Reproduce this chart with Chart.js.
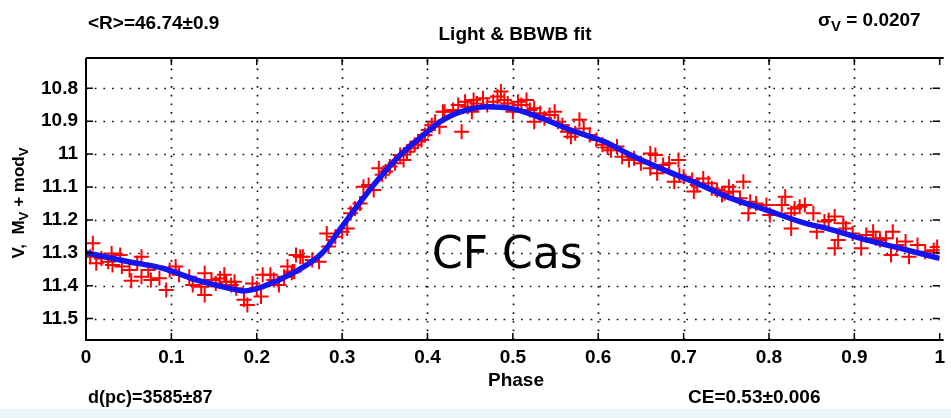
<!DOCTYPE html>
<html>
<head>
<meta charset="UTF-8">
<title>CF Cas - Light & BBWB fit</title>
<script src="https://cdn.jsdelivr.net/npm/chart.js"></script>
<style>
    html, body { margin: 0; padding: 0; background: #fff; }
    #wrap { width: 951px; height: 418px; }
</style>
</head>
<body>
<div id="wrap"><canvas id="lc" width="951" height="418"></canvas></div>
<script>
const phaseObs = [
    0.008, 0.005, 0.012, 0.018, 0.026, 0.031, 0.040, 0.042, 0.051, 0.053,
    0.065, 0.065, 0.073, 0.076, 0.086, 0.094, 0.098, 0.105, 0.109, 0.121,
    0.125, 0.135, 0.139, 0.139, 0.152, 0.162, 0.164, 0.174, 0.176, 0.185,
    0.189, 0.195, 0.205, 0.207, 0.216, 0.226, 0.232, 0.236, 0.242, 0.246,
    0.241, 0.251, 0.265, 0.244, 0.254, 0.273, 0.284, 0.282, 0.292, 0.306,
    0.310, 0.321, 0.325, 0.337, 0.343, 0.351, 0.362, 0.372, 0.376, 0.385,
    0.393, 0.401, 0.409, 0.414, 0.418, 0.420, 0.430, 0.440, 0.444, 0.452,
    0.454, 0.465, 0.477, 0.486, 0.490, 0.500, 0.506, 0.516, 0.525, 0.525,
    0.537, 0.549, 0.553, 0.564, 0.568, 0.578, 0.583, 0.605, 0.615, 0.611,
    0.622, 0.628, 0.636, 0.650, 0.661, 0.667, 0.661, 0.669, 0.683, 0.694,
    0.689, 0.695, 0.712, 0.710, 0.723, 0.729, 0.739, 0.745, 0.753, 0.758,
    0.770, 0.766, 0.778, 0.776, 0.797, 0.801, 0.815, 0.819, 0.826, 0.826,
    0.836, 0.842, 0.852, 0.856, 0.865, 0.877, 0.881, 0.877, 0.887, 0.890,
    0.908, 0.914, 0.922, 0.925, 0.937, 0.943, 0.945, 0.960, 0.964, 0.974,
    0.993, 0.997,
    0.436, 0.447, 0.458, 0.470, 0.482, 0.494, 0.510, 0.520, 0.532, 0.543,
    0.558, 0.573, 0.590, 0.598, 0.300, 0.315, 0.331, 0.347, 0.356, 0.368,
    0.380, 0.389, 0.397, 0.405, 0.642, 0.676, 0.700, 0.716, 0.733, 0.748,
    0.785, 0.147, 0.157, 0.170, 0.200, 0.220, 0.030, 0.060, 0.830, 0.870,
    0.898, 0.930, 0.950, 0.983
];
const magObs = [
    11.271, 11.312, 11.332, 11.317, 11.327, 11.337, 11.307, 11.342, 11.352, 11.385,
    11.312, 11.373, 11.352, 11.383, 11.377, 11.413, 11.352, 11.342, 11.367, 11.373,
    11.398, 11.403, 11.362, 11.428, 11.393, 11.367, 11.388, 11.388, 11.408, 11.443,
    11.459, 11.393, 11.433, 11.367, 11.367, 11.398, 11.373, 11.342, 11.357, 11.307,
    11.361, 11.312, 11.322, 11.357, 11.312, 11.327, 11.281, 11.241, 11.251, 11.226,
    11.180, 11.150, 11.099, 11.109, 11.043, 11.053, 11.028, 11.018, 10.993, 10.972,
    10.957, 10.927, 10.902, 10.917, 10.871, 10.871, 10.866, 10.932, 10.841, 10.871,
    10.836, 10.830, 10.841, 10.810, 10.836, 10.871, 10.841, 10.836, 10.861, 10.902,
    10.891, 10.871, 10.902, 10.932, 10.947, 10.896, 10.922, 10.972, 10.988, 10.980,
    10.977, 11.008, 11.018, 11.028, 10.998, 11.003, 11.043, 11.058, 11.028, 11.018,
    11.084, 11.064, 11.114, 11.079, 11.074, 11.089, 11.109, 11.124, 11.099, 11.114,
    11.084, 11.134, 11.145, 11.180, 11.155, 11.185, 11.155, 11.130, 11.226, 11.180,
    11.160, 11.155, 11.180, 11.236, 11.205, 11.190, 11.261, 11.286, 11.210, 11.226,
    11.286, 11.246, 11.236, 11.256, 11.256, 11.307, 11.236, 11.266, 11.312, 11.276,
    11.292, 11.282,
    10.851, 10.856, 10.846, 10.851, 10.825, 10.846, 10.851, 10.866, 10.876, 10.881,
    10.912, 10.937, 10.942, 10.957, 11.236, 11.165, 11.094, 11.063, 11.038, 11.003,
    10.982, 10.962, 10.942, 10.912, 11.013, 11.033, 11.069, 11.094, 11.104, 11.119,
    11.150, 11.383, 11.378, 11.398, 11.408, 11.383, 11.302, 11.332, 11.165, 11.200,
    11.241, 11.261, 11.276, 11.297
];

// BBWB fit curve
const phaseFit = [0, 0.05, 0.09, 0.13, 0.168, 0.185, 0.207, 0.242, 0.277, 0.30,
    0.335, 0.366, 0.393, 0.413, 0.436, 0.471, 0.498, 0.529, 0.568, 0.607,
    0.638, 0.677, 0.716, 0.755, 0.797, 0.836, 0.875, 0.914, 0.953, 1.0];
const magFit = [11.300, 11.327, 11.347, 11.383, 11.408, 11.416, 11.403, 11.362, 11.300, 11.220,
    11.100, 11.008, 10.947, 10.905, 10.874, 10.856, 10.861, 10.886, 10.927, 10.962,
    11.003, 11.048, 11.089, 11.134, 11.170, 11.205, 11.231, 11.261, 11.286, 11.317];

const xTicks = [0, 0.1, 0.2, 0.3, 0.4, 0.5, 0.6, 0.7, 0.8, 0.9, 1];
const yTicks = [10.8, 10.9, 11, 11.1, 11.2, 11.3, 11.4, 11.5];

const FAM = "'Liberation Sans Narrow', 'Liberation Sans', Arial, sans-serif";

// text with subscripts: parts = [[text, isSub], ...]
function drawRich(ctx, parts, x, y, size) {
    let cx = x;
    parts.forEach(p => {
        const s = p[1] ? size * 0.78 : size;
        ctx.font = 'bold ' + s + 'px ' + FAM;
        ctx.fillText(p[0], cx, y + (p[1] ? size * 0.3 : 0));
        cx += ctx.measureText(p[0]).width;
    });
}

const decor = {
    id: 'decor',
    beforeDraw(chart) {
        const ctx = chart.ctx;
        ctx.save();
        ctx.fillStyle = '#fff';
        ctx.fillRect(0, 0, chart.width, chart.height);
        ctx.fillStyle = '#eaf5f6';
        ctx.fillRect(0, 409, chart.width, chart.height - 409);
        ctx.restore();
    },
    beforeDatasetsDraw(chart) {
        // dotted matlab grid
        const { ctx, chartArea: a, scales: { x, y } } = chart;
        ctx.save();
        ctx.strokeStyle = '#111';
        ctx.lineWidth = 1.7;
        ctx.setLineDash([1.7, 7]);
        xTicks.slice(1, -1).forEach(v => {
            const px = Math.round(x.getPixelForValue(v)) + 0.5;
            ctx.beginPath(); ctx.moveTo(px, a.bottom); ctx.lineTo(px, a.top); ctx.stroke();
        });
        yTicks.forEach(v => {
            const py = Math.round(y.getPixelForValue(v)) + 0.5;
            ctx.beginPath(); ctx.moveTo(a.left, py); ctx.lineTo(a.right, py); ctx.stroke();
        });
        ctx.restore();
    },
    afterDraw(chart) {
        const { ctx, chartArea: a, scales: { x, y } } = chart;
        ctx.save();
        // axes box
        ctx.strokeStyle = '#000';
        ctx.lineWidth = 2;
        ctx.beginPath();
        ctx.moveTo(a.left, a.top); ctx.lineTo(a.right + 4, a.top);
        ctx.moveTo(a.left, a.top); ctx.lineTo(a.left, a.bottom); ctx.lineTo(a.right + 4, a.bottom);
        ctx.stroke();
        // inward ticks
        ctx.lineWidth = 1.5;
        ctx.beginPath();
        xTicks.forEach(v => {
            const px = x.getPixelForValue(v);
            ctx.moveTo(px, a.bottom); ctx.lineTo(px, a.bottom - 7);
            ctx.moveTo(px, a.top); ctx.lineTo(px, a.top + 7);
        });
        yTicks.forEach(v => {
            const py = y.getPixelForValue(v);
            ctx.moveTo(a.left, py); ctx.lineTo(a.left + 7, py);
            ctx.moveTo(a.right, py); ctx.lineTo(a.right - 7, py);
        });
        ctx.stroke();

        ctx.fillStyle = '#000';
        ctx.textBaseline = 'middle';
        ctx.textAlign = 'left';
        ctx.font = 'bold 19px ' + FAM;
        ctx.fillText('<R>=46.74\u00b10.9', 88, 24);
        drawRich(ctx, [['\u03c3', false], ['V', true], [' = 0.0207', false]], 818, 21, 19);
        ctx.font = 'bold 18px ' + FAM;
        ctx.fillText('d(pc)=3585\u00b187', 88, 398);
        ctx.font = 'bold 19px ' + FAM;
        ctx.fillText('CE=0.53\u00b10.006', 688, 398);
        ctx.textAlign = 'center';
        ctx.fillText('Light & BBWB fit', 515, 35);
        ctx.fillText('Phase', 516, 381);

        // y axis title
        ctx.save();
        ctx.translate(19, 203);
        ctx.rotate(-Math.PI / 2);
        ctx.textAlign = 'left';
        const parts = [['V,  M', false], ['V', true], [' + mod', false], ['V', true]];
        let w = 0;
        parts.forEach(p => {
            ctx.font = 'bold ' + (p[1] ? 17 * 0.78 : 17) + 'px ' + FAM;
            w += ctx.measureText(p[0]).width;
        });
        drawRich(ctx, parts, -w / 2, 0, 17);
        ctx.restore();

        // star name
        ctx.textAlign = 'left';
        ctx.textBaseline = 'alphabetic';
        ctx.font = "44px 'Comic Sans MS', 'DejaVu Sans', sans-serif";
        ctx.fillText('CF Cas', 432, 268);
        ctx.restore();
    }
};

const obsPoints = phaseObs.map((p, i) => ({ x: p, y: magObs[i] }));
const fitPoints = phaseFit.map((p, i) => ({ x: p, y: magFit[i] }));

new Chart(document.getElementById('lc'), {
    type: 'scatter',
    data: {
        datasets: [
            {
                label: 'BBWB fit',
                type: 'line',
                data: fitPoints,
                borderColor: '#1414f0',
                borderWidth: 5.5,
                pointRadius: 0,
                cubicInterpolationMode: 'monotone',
                order: 0
            },
            {
                label: 'V',
                data: obsPoints,
                pointStyle: 'cross',
                pointRadius: 7.5,
                borderColor: '#ff0000',
                borderWidth: 2,
                order: 1
            }
        ]
    },
    options: {
        responsive: false,
        animation: false,
        layout: { padding: { top: 58, right: 7, left: 0, bottom: 0 } },
        plugins: { legend: { display: false }, tooltip: { enabled: false } },
        scales: {
            x: {
                type: 'linear',
                min: 0, max: 1,
                afterBuildTicks: s => { s.ticks = xTicks.map(v => ({ value: v })); },
                afterFit: s => { s.height = 78; },
                grid: { display: false, drawTicks: false },
                border: { display: false },
                ticks: {
                    padding: 6,
                    color: '#000',
                    maxRotation: 0,
                    font: { family: FAM, size: 19, weight: 'bold' },
                    callback: v => String(+v.toFixed(1))
                }
            },
            y: {
                type: 'linear',
                reverse: true,
                min: 10.708, max: 11.565,
                afterBuildTicks: s => { s.ticks = yTicks.map(v => ({ value: v })); },
                afterFit: s => { s.width = 86; },
                grid: { display: false, drawTicks: false },
                border: { display: false },
                ticks: {
                    padding: 8,
                    color: '#000',
                    font: { family: FAM, size: 19, weight: 'bold' },
                    callback: v => String(+v.toFixed(1))
                }
            }
        }
    },
    plugins: [decor]
});
</script>
</body>
</html>
